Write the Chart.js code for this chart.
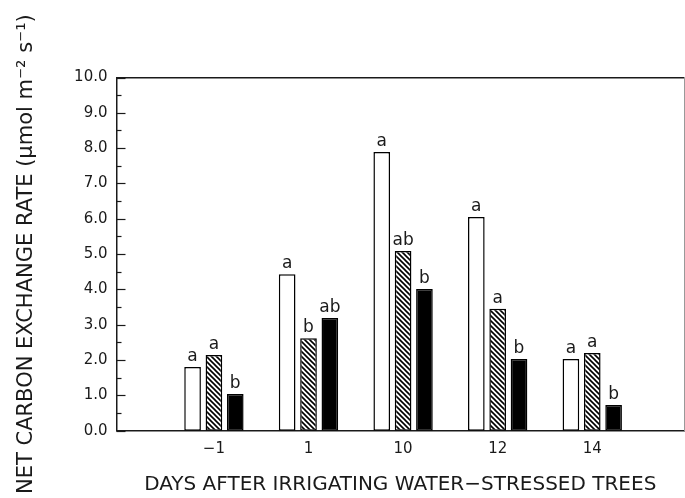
<!DOCTYPE html>
<html><head><meta charset="utf-8">
<script src="https://cdn.jsdelivr.net/npm/chart.js@4"></script>
<style>html,body{margin:0;padding:0;background:#fff;} canvas{display:block;}</style>
</head><body>
<canvas id="c" width="685" height="498"></canvas>
<script>
// ---- data ----
const categories = ['\u22121', '1', '10', '12', '14'];
const seriesA = [1.80, 4.43, 7.89, 6.05, 2.03];   // open bars
const seriesB = [2.14, 2.62, 5.09, 3.45, 2.20];   // hatched bars
const seriesC = [1.04, 3.19, 4.01, 2.03, 0.73];   // solid bars
const lettersA = ['a', 'a', 'a', 'a', 'a'];
const lettersB = ['a', 'b', 'ab', 'a', 'a'];
const lettersC = ['b', 'ab', 'b', 'b', 'b'];
const yTickValues = [0, 1, 2, 3, 4, 5, 6, 7, 8, 9, 10];
const yTitle = 'NET CARBON EXCHANGE RATE (\u03BCmol m\u207B\u00B2 s\u207B\u00B9)';
const xTitle = 'DAYS AFTER IRRIGATING WATER\u2212STRESSED TREES';

const INK = '#1a1a1a';
Chart.defaults.font.family = '"DejaVu Sans", sans-serif';
Chart.defaults.color = INK;

function hatchPattern() {
  const s = 5;
  const p = document.createElement('canvas');
  p.width = s; p.height = s;
  const g = p.getContext('2d');
  g.fillStyle = '#fff'; g.fillRect(0, 0, s, s);
  g.strokeStyle = '#000'; g.lineWidth = 1.6;
  g.beginPath();
  g.moveTo(-1, -1); g.lineTo(s + 1, s + 1);
  g.moveTo(-1, s - 1); g.lineTo(1, s + 1);
  g.moveTo(s - 1, -1); g.lineTo(s + 1, 1);
  g.stroke();
  return g.createPattern(p, 'repeat');
}

const toPoints = arr => arr.map((v, i) => ({ x: i + 1, y: v }));

const annotate = {
  id: 'annotate',
  afterDatasetsDraw(chart) {
    const ctx = chart.ctx;
    ctx.save();
    ctx.font = '17px "DejaVu Sans"';
    ctx.fillStyle = INK;
    ctx.textAlign = 'center';
    ctx.textBaseline = 'alphabetic';
    chart.data.datasets.forEach((ds, di) => {
      chart.getDatasetMeta(di).data.forEach((bar, i) => {
        ctx.fillText(ds.letters[i], bar.x, bar.y - 6);
      });
    });
    // inward tick marks on the y axis (major + half-step minor)
    const ys = chart.scales.y;
    const left = chart.chartArea.left;
    ctx.strokeStyle = INK;
    ctx.lineWidth = 1.2;
    const step = yTickValues[1] - yTickValues[0];
    for (let v = ys.min; v <= ys.max + 1e-9; v += step / 2) {
      const py = Math.round(ys.getPixelForValue(v)) + 0.5;
      const major = Math.abs(v / step - Math.round(v / step)) < 1e-6;
      ctx.beginPath();
      ctx.moveTo(left, py);
      ctx.lineTo(left + (major ? 9 : 5), py);
      ctx.stroke();
    }
    ctx.restore();
  }
};

const X_MIN = -0.03, X_MAX = 5.97;

new Chart(document.getElementById('c'), {
  type: 'bar',
  data: {
    datasets: [
      { label: 'A', data: toPoints(seriesA), letters: lettersA,
        backgroundColor: '#fff', borderColor: '#000', borderWidth: 1.5, borderSkipped: false },
      { label: 'B', data: toPoints(seriesB), letters: lettersB,
        backgroundColor: hatchPattern(), borderColor: '#000', borderWidth: 1.5, borderSkipped: false },
      { label: 'C', data: toPoints(seriesC), letters: lettersC,
        backgroundColor: '#000', borderColor: '#000', borderWidth: 1.5, borderSkipped: false }
    ]
  },
  options: {
    responsive: false,
    animation: false,
    devicePixelRatio: 1,
    categoryPercentage: 0.677,
    barPercentage: 0.78,
    layout: { padding: { top: 77.5, left: 0, right: 1, bottom: 0 } },
    plugins: { legend: { display: false }, tooltip: { enabled: false } },
    scales: {
      x: {
        type: 'linear', position: 'bottom', min: X_MIN, max: X_MAX, offset: false,
        afterBuildTicks: s => { s.ticks = categories.map((c, i) => ({ value: i + 1 })); },
        afterFit: s => { s.height = 67.3; },
        grid: { display: false, drawTicks: false, offset: false },
        border: { display: true, color: INK, width: 1.5 },
        ticks: { autoSkip: false, maxRotation: 0, padding: 9, font: { size: 15 }, color: INK,
                 callback: v => categories[Math.round(v) - 1] },
        title: { display: true, text: xTitle, font: { size: 20 }, color: INK, padding: { top: 0, bottom: 1 } }
      },
      xTop: {
        type: 'linear', position: 'top', min: X_MIN, max: X_MAX, offset: false,
        grid: { display: false, drawTicks: false, offset: false },
        ticks: { display: false },
        border: { display: true, color: INK, width: 1.5 },
        afterFit: s => { s.height = 0; }
      },
      y: {
        type: 'linear', position: 'left', min: 0, max: 10,
        afterBuildTicks: s => { s.ticks = yTickValues.map(v => ({ value: v })); },
        afterFit: s => { s.width = 116.5; },
        grid: { display: false, drawTicks: false },
        border: { display: true, color: INK, width: 1.5 },
        ticks: { padding: 9, font: { size: 15 }, color: INK, callback: v => Number(v).toFixed(1) },
        title: { display: true, text: yTitle, font: { size: 21 }, color: INK, padding: { top: 14, bottom: 0 } }
      },
      yRight: {
        type: 'linear', position: 'right', min: 0, max: 10,
        grid: { display: false, drawTicks: false },
        ticks: { display: false },
        border: { display: true, color: '#999', width: 1 },
        afterFit: s => { s.width = 0; }
      }
    }
  },
  plugins: [annotate]
});
</script>
</body></html>
